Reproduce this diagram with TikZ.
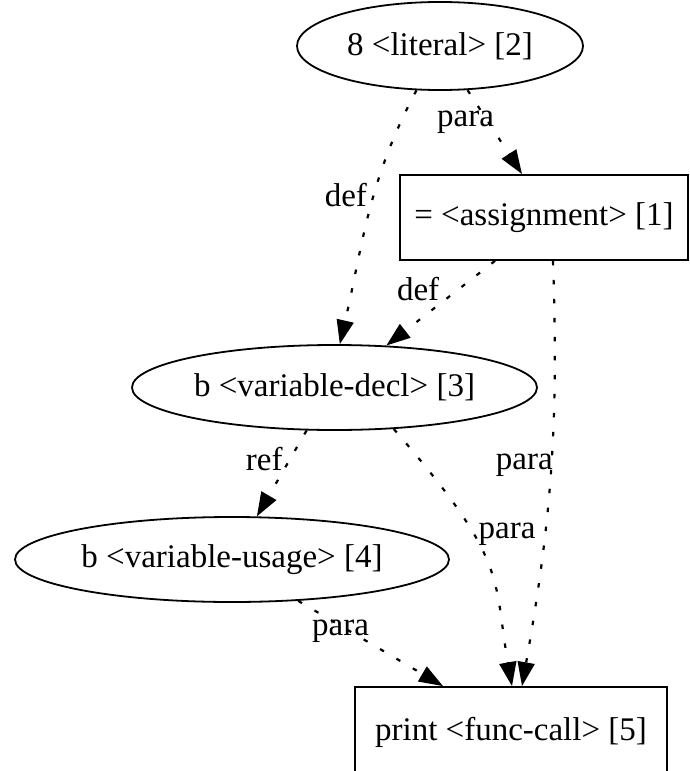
\documentclass[tikz,border=0pt]{standalone}
\usepackage{fontspec}
\setmainfont{Liberation Serif}
\usetikzlibrary{arrows.meta,shapes.geometric}

\begin{document}
\begin{tikzpicture}[x=1pt, y=1pt, font=\fontsize{33}{40}\selectfont,
  every node/.style={inner sep=0pt},
  oval/.style={draw, ellipse, line width=1.8pt},
  box/.style={draw, rectangle, line width=1.8pt},
  dep/.style={line width=2.2pt, dash pattern=on 4.5pt off 14.5pt,
    -{Triangle[length=24pt, width=17pt]}}]
  \useasboundingbox (0,0) rectangle (690,-771);

  \node[oval, minimum width=286pt, minimum height=88pt] (lit) at (440,-46) {8 <literal> [2]};
  \node[box, minimum width=288pt, minimum height=85pt] (assign) at (544,-217.5) {= <assignment> [1]};
  \node[oval, minimum width=405pt, minimum height=85pt] (decl) at (334.5,-387.5) {b <variable-decl> [3]};
  \node[oval, minimum width=434pt, minimum height=85pt] (usage) at (232,-559.5) {b <variable-usage> [4]};
  \node[box, minimum width=312pt, minimum height=90pt] (call) at (511,-732) {print <func-call> [5]};

  \path[dep]
  (lit.302) edge node [pos=.35, xshift=-21pt, yshift=-3pt] {para} ([xshift=-22pt]assign.north)
  (lit.242) edge [out=242, in=77] node [pos=.42, xshift=-28pt] {def} (decl.83)
  ([xshift=-49pt]assign.south) edge node [pos=.33, xshift=-41pt] {def} (decl.39)
  ([xshift=9pt]assign.south) edge [out=272, in=80] node [pos=.47, xshift=-27pt, yshift=-3pt] {para} ([xshift=11pt]call.north)
  (decl.237) edge node [pos=.33, xshift=-26pt] {ref} (usage.60)
  (decl.325) edge [out=311, in=100, out looseness=1.6] node [pos=.35, xshift=33pt] {para} ([xshift=1pt]call.north)
  (usage.328) edge node [pos=.32, xshift=-4pt, yshift=-3pt] {para} ([xshift=-68pt]call.north);
\end{tikzpicture}
\end{document}
